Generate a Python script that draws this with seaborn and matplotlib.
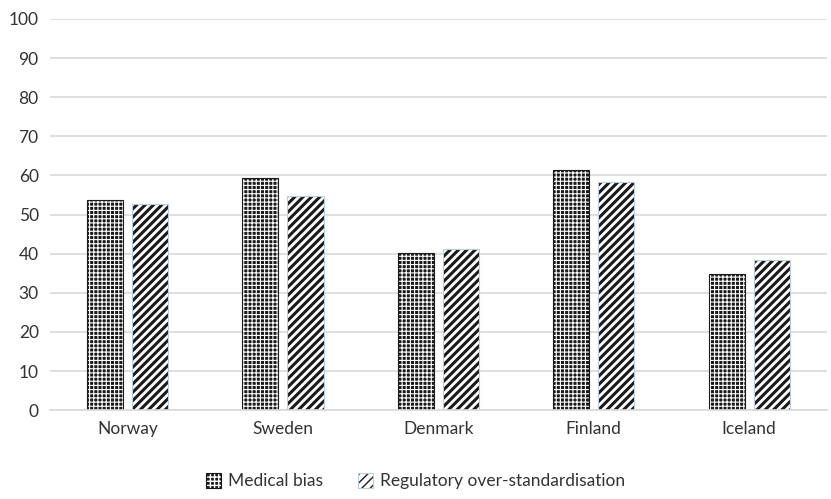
import matplotlib
matplotlib.use("Agg")
import matplotlib.pyplot as plt
import pandas as pd
import seaborn as sns
from matplotlib.patches import Patch

countries = ["Norway", "Sweden", "Denmark", "Finland", "Iceland"]
medical_bias = [53.8, 59.3, 40.1, 61.4, 34.8]
regulatory = [52.6, 54.8, 41.1, 58.3, 38.4]
series_names = ["Medical bias", "Regulatory over-standardisation"]

df = pd.DataFrame({
    "Country": countries * 2,
    "Value": medical_bias + regulatory,
    "Series": [series_names[0]] * len(countries) + [series_names[1]] * len(countries),
})

sns.set_theme(style="white")
plt.rcParams["font.family"] = ["Lato", "DejaVu Sans"]

fig, ax = plt.subplots(figsize=(8.31, 4.99), dpi=100)
fig.subplots_adjust(left=0.06, right=0.995, top=0.962, bottom=0.178)

sns.barplot(data=df, x="Country", y="Value", hue="Series", order=countries,
            hue_order=series_names, width=0.58, gap=0.2, ax=ax,
            palette=["#1a1a1a", "white"], legend=False)

# medical: black squares on a white grid; regulatory: black diagonal stripes
styles = [
    dict(hatch="++++", hc=(1, 1, 1, 1), hlw=0.8, ec="#1a1a1a"),
    dict(hatch="////", hc=(0.1, 0.1, 0.1, 1), hlw=2.2, ec="#b8cde6"),
]


def style_patch(p, st):
    p.set_hatch(st["hatch"])
    p.set_edgecolor(st["ec"])
    p.set_linewidth(0.8)
    p._hatch_color = st["hc"]
    p._hatch_linewidth = st["hlw"]


for cont, st in zip(ax.containers, styles):
    for bar in cont:
        style_patch(bar, st)

ax.set_ylim(0, 100)
ax.set_yticks(range(0, 101, 10))
ax.set_xlim(-0.5, 4.5)
ax.grid(axis="y", color="#d9d9d9", linewidth=1.2)
ax.set_axisbelow(True)
for s in ["top", "right", "left"]:
    ax.spines[s].set_visible(False)
ax.spines["bottom"].set_color("#d9d9d9")
ax.spines["bottom"].set_linewidth(1.2)
ax.tick_params(axis="both", length=0, labelsize=12.5, colors="#333333", pad=8)
ax.set_xlabel("")
ax.set_ylabel("")

handles = [Patch(facecolor="#1a1a1a"), Patch(facecolor="white")]
for hnd, st in zip(handles, styles):
    style_patch(hnd, st)
fig.legend(handles, series_names, loc="lower center", ncol=2, frameon=False,
           fontsize=12.5, bbox_to_anchor=(0.5, -0.012), handlelength=0.9,
           handleheight=0.9, columnspacing=2.0, handletextpad=0.4,
           labelcolor="#333333")

fig.savefig("out.png", dpi=100)
